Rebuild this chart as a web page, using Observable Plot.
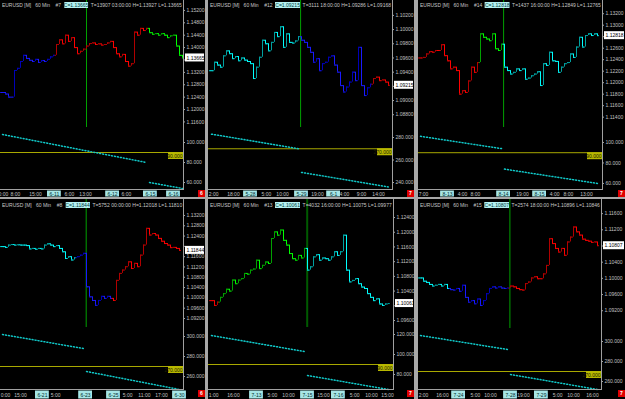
<!DOCTYPE html>
<html><head><meta charset="utf-8">
<script src="https://cdn.jsdelivr.net/npm/d3@7"></script>
<script src="https://cdn.jsdelivr.net/npm/@observablehq/plot@0.6"></script>
<style>
html,body{margin:0;padding:0;background:#a8a8a8;}
#root{position:relative;width:625px;height:399px;overflow:hidden;background:#a8a8a8;}
.panel{position:absolute;background:#000;overflow:hidden;}
.hdr{position:absolute;white-space:pre;font:5px "Liberation Sans",Arial,sans-serif;color:#c8c8c8;transform-origin:0 0;line-height:6px;}
.hdr .c{background:#b4f0f0;color:#004040;}
.ln{position:absolute;background:#a0a0a0;}
.tag{position:absolute;background:#e00000;color:#fff;font:bold 5px "Liberation Sans",Arial,sans-serif;text-align:center;line-height:7px;}
svg{display:block;}
</style></head><body><div id="root"></div>
<script>
// ---------------- data ----------------
const headers = [
  ["#7","1.13665","13907 03:00:00","1.13927","1.13665"],
  ["#12","1.09215","3111 18:00:00","1.09286","1.09168"],
  ["#14","1.12818","1437 16:00:00","1.12849","1.12765"],
  ["#8","1.11844","5752 00:00:00","1.12018","1.11810"],
  ["#13","1.10061","4032 16:00:00","1.10075","1.09977"],
  ["#15","1.10807","2574 18:00:00","1.10896","1.10846"]
];
const tags = ["6","7","7","6","7","7"];

const close1 = [1.1255,1.1250,1.1240,1.1240,1.1326,1.1333,1.1355,1.1375,1.1365,1.1359,1.1355,1.1362,1.1352,1.1358,1.1355,1.1362,1.1370,1.1375,1.1410,1.1425,1.1412,1.1440,1.1420,1.1432,1.1400,1.1380,1.1388,1.1395,1.1405,1.1413,1.1415,1.1410,1.1412,1.1408,1.1410,1.1415,1.1420,1.1400,1.1380,1.1370,1.1378,1.1355,1.1340,1.1348,1.1450,1.1440,1.1462,1.1455,1.1462,1.1448,1.1443,1.1445,1.1440,1.1445,1.1440,1.1432,1.1438,1.1440,1.1405,1.1375,1.13665];
const runs1 = [[0,"blue"],[18,"red"],[49,"green"]];
const close2 = [1.0942,1.0954,1.0950,1.0947,1.0963,1.0970,1.0966,1.0959,1.0962,1.0956,1.0960,1.0957,1.0955,1.0952,1.0931,1.0947,1.0961,1.0985,1.0980,1.0970,1.0982,1.0996,1.0990,1.1004,1.0975,1.0994,1.0982,1.0981,1.0984,1.0990,1.0985,1.0982,1.0975,1.0968,1.0954,1.0959,1.0942,1.0952,1.0954,1.0961,1.0963,1.0950,1.0940,1.0921,1.0912,1.0919,1.0926,1.0940,1.0928,1.0975,1.0921,1.0907,1.0918,1.0923,1.0931,1.0933,1.0928,1.0929,1.0926,1.09215];
const runs2 = [[0,"cyan"],[30,"blue"],[54,"red"]];
const close3 = [1.1243,1.1244,1.1250,1.1254,1.1253,1.1256,1.1256,1.1266,1.1247,1.1238,1.1224,1.1227,1.1221,1.1180,1.1186,1.1183,1.1203,1.1227,1.1218,1.1235,1.1285,1.1279,1.1276,1.1273,1.1285,1.1259,1.1256,1.1267,1.1227,1.1221,1.1215,1.1218,1.1224,1.1221,1.1224,1.1206,1.1208,1.1212,1.1215,1.1219,1.1195,1.1233,1.1230,1.1253,1.1238,1.1237,1.1218,1.1227,1.1233,1.1235,1.1250,1.1244,1.1262,1.1279,1.1262,1.1282,1.1285,1.1282,1.1285,1.12818];
const runs3 = [[0,"red"],[20,"green"],[28,"cyan"]];
const close4 = [1.1199,1.1196,1.1205,1.1207,1.1205,1.1206,1.1205,1.1205,1.1203,1.1190,1.1192,1.1189,1.1192,1.1190,1.1205,1.1210,1.1205,1.1199,1.1203,1.1192,1.1179,1.1153,1.1160,1.1147,1.1156,1.1160,1.1166,1.1173,1.1043,1.1004,1.0990,1.0971,1.0990,1.1006,1.0998,1.1006,1.0998,1.0990,1.1068,1.1095,1.1108,1.1121,1.1140,1.1114,1.1134,1.1121,1.1166,1.1205,1.1270,1.1244,1.1250,1.1244,1.1231,1.1220,1.1211,1.1205,1.1195,1.1196,1.1192,1.11844];
const runs4 = [[0,"cyan"],[25,"blue"],[37,"red"]];
const close5 = [1.1014,1.1001,1.1010,1.1023,1.1033,1.1045,1.1040,1.1070,1.1060,1.1070,1.1074,1.1088,1.1086,1.1097,1.1100,1.1124,1.1101,1.1110,1.1119,1.1115,1.1183,1.1201,1.1192,1.1206,1.1178,1.1165,1.1142,1.1128,1.1124,1.1137,1.1130,1.1156,1.1097,1.1106,1.1133,1.1139,1.1124,1.1130,1.1128,1.1124,1.1133,1.1147,1.1137,1.1147,1.1192,1.1097,1.1065,1.1069,1.1074,1.1060,1.1051,1.1047,1.1033,1.1023,1.1014,1.1019,1.1005,1.1001,1.1005,1.10061];
const runs5 = [[0,"red"],[3,"green"],[32,"cyan"]];
const close6 = [1.1001,1.0993,1.0990,1.0985,1.0981,1.0983,1.0985,1.0981,1.0985,1.0975,1.0972,1.0971,1.0975,1.0968,1.0983,1.0953,1.0941,1.0945,1.0937,1.0949,1.0933,1.0945,1.0962,1.0975,1.0979,1.0976,1.0979,1.0976,1.0975,1.0976,1.0981,1.0979,1.0975,1.0972,1.0971,1.0987,1.0991,1.1001,1.1004,1.0999,1.0999,1.1011,1.1032,1.1098,1.1086,1.1074,1.1065,1.1074,1.1057,1.1090,1.1102,1.1127,1.1115,1.1107,1.1097,1.1094,1.1092,1.1089,1.1090,1.10807];
const runs6 = [[0,"cyan"],[10,"blue"],[30,"red"]];

const priceTicks1 = [1.152,1.148,1.144,1.140,1.136,1.132,1.128,1.124,1.120,1.116];
const priceTicks2 = [1.102,1.100,1.098,1.096,1.094,1.092,1.090,1.088];
const priceTicks3 = [1.132,1.130,1.128,1.126,1.124,1.122,1.120,1.118,1.116,1.114];
const priceTicks4 = [1.132,1.128,1.124,1.120,1.116,1.112,1.108,1.104,1.100,1.096,1.092];
const priceTicks5 = [1.124,1.120,1.116,1.112,1.108,1.104,1.100,1.096];
const priceTicks6 = [1.116,1.112,1.108,1.104,1.100,1.096,1.092];

const indTicks1 = [100,80,60], indTicks2 = [280,260,240], indTicks3 = [100,80,60];
const indTicks4 = [300,280,260], indTicks5 = [120,100,80], indTicks6 = [300,280,260];
const levels = [90,270,90,270,90,270];
const indA1 = [[0,108],[48,80]],  indB1 = [[49,60],[60,54]];
const indA2 = [[0,283],[29,270]], indB2 = [[30,249],[59,236]];
const indA3 = [[0,106],[27,94]],  indB3 = [[28,74],[59,60]];
const indA4 = [[0,302],[27,288]], indB4 = [[28,265],[59,247]];
const indA5 = [[0,119],[31,103]], indB5 = [[32,79],[59,65]];
const indA6 = [[0,306],[29,292]], indB6 = [[30,267],[59,252]];

const time1 = [[0.3,"0:00",0],[4.3,"8:00",0],[11,"15:00",0],[17.3,"6-11",1],[22.3,"6:00",0],[27.7,"13:00",0],[36.7,"6-12",1],[41.3,"6:00",0],[49.3,"6-15",1],[57,"6-16",1]];
const time2 = [[0.7,"2:00",0],[7.3,"18:00",0],[13,"5-28",1],[18.3,"5:00",0],[23.7,"10:00",0],[30,"5-29",1],[35.3,"19:00",0],[40.7,"6-1",1],[44.3,"4:00",0],[50,"9:00",0],[55.7,"14:00",0]];
const time3 = [[1,"7:00",0],[9,"8-13",1],[14,"4:00",0],[18.3,"8:00",0],[27.7,"8-14",1],[34,"19:00",0],[39.7,"8-15",1],[44.7,"4:00",0],[49.3,"8:00",0],[55.3,"13:00",0]];
const time4 = [[1,"0:00",0],[6,"15:00",0],[13.3,"6-21",1],[17.7,"5:00",0],[27.7,"6-23",1],[37,"6-25",1],[41.7,"5:00",0],[47.3,"11:00",0],[53,"17:00",0],[59,"6-30",1]];
const time5 = [[0.7,"1:00",0],[7.3,"16:00",0],[15,"7-13",1],[20.3,"5:00",0],[25.7,"10:00",0],[32,"7-15",1],[37.3,"15:00",0],[42.3,"7-16",1],[47.7,"5:00",0],[53.3,"10:00",0],[58.7,"15:00",0]];
const time6 = [[1,"2:00",0],[7.3,"16:00",0],[12.7,"7-24",1],[18.3,"5:00",0],[23.3,"10:00",0],[30,"7-28",1],[34.3,"19:00",0],[40.3,"7-29",1],[45.7,"5:00",0],[51,"10:00",0],[57.3,"16:00",0]];

const nowBar = [28, 29.7, 27.7, 27.9, 31.9, 29.8];

// ---------------- layout ----------------
const palette = {blue:["#1a1aff","#0000b8"], red:["#ff0000","#b00000"], green:["#00ff00","#00a000"], cyan:["#00ffff","#00a0a0"]};
const F = '"Liberation Sans",Arial,sans-serif';
const panels = [
  {left:0,  top:0,   w:205, h:197, plotW:183, off:2, priceH:127, indH:62, close:close1, runs:runs1, pDom:[1.1142,1.1552], pTicks:priceTicks1, iDom:[53,115],     iTicks:indTicks1, indA:indA1, indB:indB1, time:time1, hdrTop:2, vColor:"#00a000", vW:1},
  {left:208,top:0,   w:206, h:197, plotW:184, off:3, priceH:127, indH:62, close:close2, runs:runs2, pDom:[1.0862,1.1041], pTicks:priceTicks2, iDom:[233.8,288.9], iTicks:indTicks2, indA:indA2, indB:indB2, time:time2, hdrTop:2, vColor:"#00a000", vW:1},
  {left:418,top:0,   w:207, h:197, plotW:184, off:2, priceH:127, indH:62, close:close3, runs:runs3, pDom:[1.1122,1.1343], pTicks:priceTicks3, iDom:[54.1,114.6], iTicks:indTicks3, indA:indA3, indB:indB3, time:time3, hdrTop:2, vColor:"#00a000", vW:1},
  {left:0,  top:199, w:205, h:200, plotW:183, off:2, priceH:128, indH:62, close:close4, runs:runs4, pDom:[1.0885,1.1382], pTicks:priceTicks4, iDom:[247,309],     iTicks:indTicks4, indA:indA4, indB:indB4, time:time4, hdrTop:3, vColor:"#00a000", vW:1},
  {left:208,top:199, w:206, h:200, plotW:185, off:3, priceH:128, indH:62, close:close5, runs:runs5, pDom:[1.0941,1.1289], pTicks:priceTicks5, iDom:[65,127],      iTicks:indTicks5, indA:indA5, indB:indB5, time:time5, hdrTop:3, vColor:"#005a00", vW:2},
  {left:418,top:199, w:207, h:200, plotW:183, off:2, priceH:129, indH:61, close:close6, runs:runs6, pDom:[1.0876,1.1195], pTicks:priceTicks6, iDom:[252,313],     iTicks:indTicks6, indA:indA6, indB:indB6, time:time6, hdrTop:3, vColor:"#00a000", vW:1}
];

const root = document.getElementById("root");
function el(cls, parent, style){ const d=document.createElement("div"); if(cls) d.className=cls; Object.assign(d.style, style||{}); parent.appendChild(d); return d; }
function place(parent, node, x, y){ node.style.position="absolute"; node.style.left=x+"px"; node.style.top=y+"px"; node.style.maxWidth="none"; parent.appendChild(node); }
function runColor(runs, i){ let c=runs[0][1]; for (const [s,k] of runs) if (i>=s) c=k; return c; }

panels.forEach((p, idx) => {
  const pan = el("panel", root, {left:p.left+"px", top:p.top+"px", width:p.w+"px", height:p.h+"px"});
  const axW = p.w - p.plotW;
  const xDom = [-p.off/3, (p.plotW - p.off)/3];
  const bars = p.close.map((c,i)=>{ const o = i ? p.close[i-1] : c; return {i, o, c, col: palette[runColor(p.runs,i)][c>o?1:0]}; });
  const common = {margin:0, style:{background:"transparent", overflow:"visible", fontFamily:F}, color:{type:"identity"}};
  const last = p.close[p.close.length-1];

  // price pane
  const price = Plot.plot({...common, width:p.plotW, height:p.priceH,
    x:{domain:xDom, axis:null}, y:{domain:p.pDom, axis:null},
    marks:[
      Plot.ruleX([nowBar[idx]], {x:d=>d, stroke:p.vColor, strokeWidth:p.vW}),
      Plot.ruleX(bars.filter(d=>d.o!==d.c), {x:"i", y1:d=>Math.min(d.o,d.c), y2:d=>Math.max(d.o,d.c), stroke:"col"}),
      Plot.ruleY(bars, {y:"o", x1:d=>d.i-0.6, x2:"i", stroke:"col"}),
      Plot.ruleY(bars, {y:"c", x1:"i", x2:d=>d.i+0.6, stroke:"col"})
    ]});
  place(pan, price, 0, 0);

  // price axis (labels hidden under the current-price box are left out, as in the terminal)
  const ys = price.scale("y");
  const yLast = ys.apply(last);
  const shown = p.pTicks.filter(t => Math.abs(ys.apply(t) - yLast) > 5.5);
  const pax = Plot.plot({...common, width:axW, height:p.priceH, y:{domain:p.pDom, axis:null},
    marks:[
      Plot.tickY(p.pTicks, {y:d=>d, stroke:"#a0a0a0", insetRight:axW-2}),
      Plot.text(shown, {y:d=>d, text:d=>d.toFixed(5), frameAnchor:"left", textAnchor:"start", dx:3, fill:"#c0c0c0", fontSize:5}),
      Plot.rect([last], {y1:d=>d, y2:d=>d, insetTop:-4, insetBottom:-4, insetLeft:2, insetRight:1, fill:"#ffffff"}),
      Plot.text([last], {y:d=>d, text:d=>d.toFixed(5), frameAnchor:"left", textAnchor:"start", dx:3, fill:"#000000", fontSize:5})
    ]});
  place(pan, pax, p.plotW, 0);

  // indicator pane
  const lvl = levels[idx];
  const ind = Plot.plot({...common, width:p.plotW, height:p.indH,
    x:{domain:xDom, axis:null}, y:{domain:p.iDom, axis:null},
    marks:[
      Plot.ruleY([lvl], {y:d=>d, stroke:"#a8a800"}),
      Plot.line(p.indA, {x:d=>d[0], y:d=>d[1], stroke:"#10c8c8", strokeDasharray:"1,2"}),
      Plot.line(p.indB, {x:d=>d[0], y:d=>d[1], stroke:"#10c8c8", strokeDasharray:"1,2"}),
      Plot.rect([lvl], {y1:d=>d, y2:d=>d, insetTop:0, insetBottom:-7, insetLeft:p.plotW-15, fill:"#b8b800"}),
      Plot.text([lvl], {y:d=>d, text:d=>d.toFixed(3), frameAnchor:"right", textAnchor:"end", dx:-1, dy:3.5, fill:"#202000", fontSize:5})
    ]});
  place(pan, ind, 0, p.priceH);

  const iax = Plot.plot({...common, width:axW, height:p.indH, y:{domain:p.iDom, axis:null},
    marks:[
      Plot.tickY(p.iTicks, {y:d=>d, stroke:"#a0a0a0", insetRight:axW-2}),
      Plot.text(p.iTicks, {y:d=>d, text:d=>d.toFixed(3), frameAnchor:"left", textAnchor:"start", dx:3, fill:"#c0c0c0", fontSize:5})
    ]});
  place(pan, iax, p.plotW, p.priceH);

  // time axis
  const tH = p.h - p.priceH - p.indH - 1;
  const tax = Plot.plot({...common, width:p.plotW, height:tH, x:{domain:xDom, axis:null},
    marks:[
      Plot.rect(p.time.filter(d=>d[2]), {x1:d=>d[0]-2.3, x2:d=>d[0]+2.3, insetTop:0.5, insetBottom:0.5, fill:"#a6e6e6"}),
      Plot.text(p.time, {x:d=>d[0], text:d=>d[1], frameAnchor:"middle", fill:d=>d[2]?"#003030":"#c0c0c0", fontSize:5})
    ]});
  place(pan, tax, 0, p.priceH + p.indH + 1);

  // frame lines
  el("ln", pan, {left:p.plotW+"px", top:"0px", width:"1px", height:(p.priceH+p.indH+1)+"px"});
  el("ln", pan, {left:"0px", top:(p.priceH+p.indH)+"px", width:(p.plotW+1)+"px", height:"1px"});
  const t = el("tag", pan, {left:(p.w-7)+"px", top:(p.priceH+p.indH+1)+"px", width:"7px", height:"7px"});
  t.textContent = tags[idx];

  // header
  const h = headers[idx];
  const hd = el("hdr", pan, {left:"2px", top:p.hdrTop+"px"});
  hd.innerHTML = `EURUSD [M]   60 Min    ${h[0]}  <span class="c">C=${h[1]}</span>  T=${h[2]} H=${h[3]} L=${h[4]}`;
  const wNow = hd.offsetWidth;
  const target = p.plotW - 3;
  hd.style.transform = `scaleX(${target / wNow})`;
});
</script></body></html>
